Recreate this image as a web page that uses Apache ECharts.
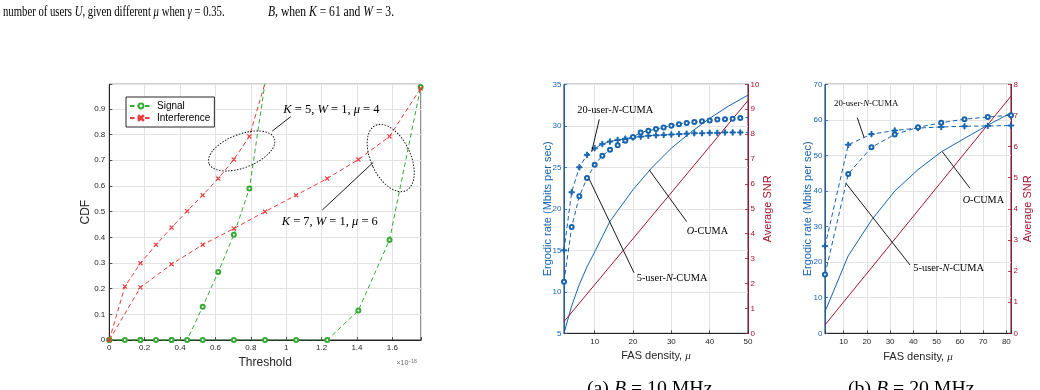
<!DOCTYPE html>
<html><head><meta charset="utf-8">
<script src="https://cdn.jsdelivr.net/npm/echarts@6/dist/echarts.min.js"></script>
<style>html,body{margin:0;padding:0;background:#fff;}#c{width:1040px;height:390px;}</style>
</head><body><div id="c"></div>
<script>
// ---------------- DATA ----------------
// Left plot: CDF vs threshold (x in units of 1e-18)
const cdfXK5 = [0, 0.088, 0.176, 0.264, 0.352, 0.44, 0.528, 0.616, 0.704, 0.792, 0.88];
const sigK5  = [0, 0, 0, 0, 0, 0, 0.13, 0.265, 0.41, 0.59, 1.0];
const intK5  = [0, 0.208, 0.299, 0.371, 0.438, 0.502, 0.564, 0.629, 0.703, 0.793, 1.0];
const cdfXK7 = [0, 0.176, 0.352, 0.528, 0.704, 0.88, 1.056, 1.232, 1.408, 1.584, 1.76];
const sigK7  = [0, 0, 0, 0, 0, 0, 0, 0, 0.115, 0.39, 0.985];
const intK7  = [0, 0.205, 0.295, 0.371, 0.434, 0.5, 0.564, 0.629, 0.703, 0.793, 0.98];
const legendNames = ['Signal', 'Interference'];

// Plot (a): B = 10 MHz
const aX   = [2,4,6,8,10,12,14,16,18,20,22,24,26,28,30,32,34,36,38,40,42,44,46,48];
const a20  = [15.0,22.0,25.0,26.5,27.3,27.8,28.1,28.3,28.45,28.6,28.7,28.8,28.85,28.9,28.95,29.0,29.05,29.1,29.1,29.15,29.15,29.2,29.2,29.2];
const a5   = [11.2,17.8,21.5,23.7,25.3,26.4,27.1,27.65,28.2,28.65,29.2,29.4,29.6,29.8,30.0,30.2,30.35,30.45,30.55,30.65,30.75,30.8,30.85,30.95];
const aEndX = 50, a20End = 29.2, a5End = 31.0;
const aOX  = [2,4,6,8,10,14,20,25,30,35,40,45,50];
const aO   = [5,8.3,10.9,13.0,14.8,18.5,22.3,25.0,27.3,29.2,30.9,32.4,33.7];
const aSnrX = [2, 50];
const aSnr  = [0.47, 9.35];

// Plot (b): B = 20 MHz
const bX   = [2,12,22,32,42,52,62,72,82];
const b20  = [24.5,53.0,56.0,57.0,57.7,58.0,58.2,58.3,58.4];
const b5   = [16.5,44.8,52.3,55.9,57.9,59.2,60.2,60.8,61.3];
const bO   = [6.1,21.8,31.8,40.0,46.0,51.0,54.8,58.5,62.0];
const bSnrX = [2, 82];
const bSnr  = [0.27, 7.62];

// ---------------- STYLE ----------------
const SANS = 'Liberation Sans', SERIF = 'Liberation Serif';
const DARK = '#262626', GRIDC = '#e3e3e3';
const GREEN = '#34ab34', RED1 = '#ea3c3c';
const BLUE = '#1763ae', MRED = '#a2142f';
const PLUS = 'path://M4,0H6V4H10V6H6V10H4V6H0V4H4Z';
const CROSS = 'path://M1,0L5,4L9,0L10,1L6,5L10,9L9,10L5,6L1,10L0,9L4,5L0,1Z';
const zip = (xs, ys) => xs.map((x, i) => [x, ys[i]]);
const stepFmt = step => v => { const r = Math.round(v / step); return Math.abs(v - r * step) < step * 1e-3 ? String(+(r * step).toFixed(6)) : ''; };
const lbl = (color, step, m) => ({ fontFamily: SANS, fontSize: 8, color: color, margin: m == null ? 4 : m, formatter: stepFmt(step) });
const tick = color => ({ show: true, inside: true, length: 3, lineStyle: { color: color, width: 0.8 } });
const split = { show: true, lineStyle: { color: GRIDC, width: 1 } };

const grids = [
  { left: 109.3, top: 84.3, width: 311.7, height: 255.7, show: true, borderColor: DARK, borderWidth: 1, backgroundColor: '#fff', outerBoundsMode: 'none' },
  { left: 564, top: 84.3, width: 184, height: 249, show: true, borderColor: DARK, borderWidth: 1, backgroundColor: '#fff', outerBoundsMode: 'none' },
  { left: 825, top: 84.3, width: 186, height: 249, show: true, borderColor: DARK, borderWidth: 1, backgroundColor: '#fff', outerBoundsMode: 'none' }
];

const xNameStyle = { fontFamily: SANS, fontSize: 11, color: DARK, rich: { i: { fontFamily: SERIF, fontStyle: 'italic', fontSize: 11, color: DARK } } };

const xAxes = [
  { gridIndex: 0, type: 'value', min: 0, max: 1.762, interval: 0.2,
    name: 'Threshold', nameLocation: 'middle', nameGap: 17, nameMoveOverlap: false, nameTextStyle: { fontFamily: SANS, fontSize: 12, color: DARK },
    axisLine: { lineStyle: { color: DARK } }, axisTick: tick(DARK), axisLabel: lbl(DARK, 0.2), splitLine: split },
  { gridIndex: 1, type: 'value', min: 2, max: 50, splitNumber: 5,
    name: 'FAS density, {i|μ}', nameLocation: 'middle', nameGap: 17, nameMoveOverlap: false, nameTextStyle: xNameStyle,
    axisLine: { lineStyle: { color: DARK } }, axisTick: tick(DARK), axisLabel: lbl(DARK, 10), splitLine: split },
  { gridIndex: 2, type: 'value', min: 2, max: 82, splitNumber: 8,
    name: 'FAS density, {i|μ}', nameLocation: 'middle', nameGap: 18, nameMoveOverlap: false, nameTextStyle: xNameStyle,
    axisLine: { lineStyle: { color: DARK } }, axisTick: tick(DARK), axisLabel: lbl(DARK, 10), splitLine: split }
];

const yAxes = [
  { gridIndex: 0, type: 'value', min: 0, max: 0.996, interval: 0.1,
    name: 'CDF', nameLocation: 'middle', nameGap: 18, nameMoveOverlap: false, nameTextStyle: { fontFamily: SANS, fontSize: 12, color: DARK },
    axisLine: { lineStyle: { color: DARK } }, axisTick: tick(DARK), axisLabel: lbl(DARK, 0.1), splitLine: split },
  { gridIndex: 1, type: 'value', min: 5, max: 35, interval: 5, position: 'left',
    name: 'Ergodic rate (Mbits per sec)', nameLocation: 'middle', nameGap: 10.5, nameMoveOverlap: false, nameTextStyle: { fontFamily: SANS, fontSize: 11, color: BLUE },
    axisLine: { show: true, lineStyle: { color: BLUE } }, axisTick: tick(BLUE), axisLabel: lbl(BLUE, 5, 2.5), splitLine: split },
  { gridIndex: 1, type: 'value', min: 0, max: 10, interval: 1, position: 'right',
    name: 'Average SNR', nameLocation: 'middle', nameGap: 14, nameMoveOverlap: false, nameTextStyle: { fontFamily: SANS, fontSize: 11, color: MRED },
    axisLine: { show: true, lineStyle: { color: MRED } }, axisTick: tick(MRED), axisLabel: lbl(MRED, 1, 2.5), splitLine: { show: false } },
  { gridIndex: 2, type: 'value', min: 0, max: 70, interval: 10, position: 'left',
    name: 'Ergodic rate (Mbits per sec)', nameLocation: 'middle', nameGap: 12, nameMoveOverlap: false, nameTextStyle: { fontFamily: SANS, fontSize: 11, color: BLUE },
    axisLine: { show: true, lineStyle: { color: BLUE } }, axisTick: tick(BLUE), axisLabel: lbl(BLUE, 10, 2.5), splitLine: split },
  { gridIndex: 2, type: 'value', min: 0, max: 8, interval: 1, position: 'right',
    name: 'Average SNR', nameLocation: 'middle', nameGap: 11.2, nameMoveOverlap: false, nameTextStyle: { fontFamily: SANS, fontSize: 11, color: MRED },
    axisLine: { show: true, lineStyle: { color: MRED } }, axisTick: tick(MRED), axisLabel: lbl(MRED, 1, 2.5), splitLine: { show: false } }
];

function lineS(name, xi, yi, data, color, opts) {
  return Object.assign({
    type: 'line', name: name, xAxisIndex: xi, yAxisIndex: yi, data: data,
    color: color, clip: true, showAllSymbol: true, animation: false,
    lineStyle: { color: color, width: 1, type: 'solid' },
    itemStyle: { color: color, borderColor: color, borderWidth: 0.9 },
    symbol: 'none', emphasis: { disabled: true }
  }, opts || {});
}
const dashed = c => ({ color: c, width: 1, type: [4.5, 3] });
const endPoint = (x, y) => ({ value: [x, y], symbol: 'none' });
const ring = c => ({ color: c, borderColor: c, borderWidth: 0.8 });

const series = [
  lineS('Signal', 0, 0, zip(cdfXK5, sigK5), GREEN, { lineStyle: dashed(GREEN), symbol: 'emptyCircle', symbolSize: 4, itemStyle: ring(GREEN) }),
  lineS('Signal', 0, 0, zip(cdfXK7, sigK7), GREEN, { lineStyle: dashed(GREEN), symbol: 'emptyCircle', symbolSize: 4, itemStyle: ring(GREEN) }),
  lineS('Interference', 0, 0, zip(cdfXK5, intK5), RED1, { lineStyle: dashed(RED1), symbol: CROSS, symbolSize: 4 }),
  lineS('Interference', 0, 0, zip(cdfXK7, intK7), RED1, { lineStyle: dashed(RED1), symbol: CROSS, symbolSize: 4 }),

  lineS('a-O', 1, 1, zip(aOX, aO), BLUE),
  lineS('a-snr', 1, 2, zip(aSnrX, aSnr), MRED),
  lineS('a-20', 1, 1, zip(aX, a20).concat([endPoint(aEndX, a20End)]), BLUE, { lineStyle: dashed(BLUE), symbol: PLUS, symbolSize: 5.5 }),
  lineS('a-5', 1, 1, zip(aX, a5).concat([endPoint(aEndX, a5End)]), BLUE, { lineStyle: dashed(BLUE), symbol: 'emptyCircle', symbolSize: 4, itemStyle: ring(BLUE) }),

  lineS('b-O', 2, 3, zip(bX, bO), BLUE),
  lineS('b-snr', 2, 4, zip(bSnrX, bSnr), MRED),
  lineS('b-20', 2, 3, zip(bX, b20), BLUE, { lineStyle: dashed(BLUE), symbol: PLUS, symbolSize: 5.5 }),
  lineS('b-5', 2, 3, zip(bX, b5), BLUE, { lineStyle: dashed(BLUE), symbol: 'emptyCircle', symbolSize: 4, itemStyle: ring(BLUE) })
];

// ---------------- ANNOTATIONS ----------------
const mathRich = fs => ({
  r: { fontFamily: SERIF, fontSize: fs, fill: '#000' },
  i: { fontFamily: SERIF, fontSize: fs, fontStyle: 'italic', fill: '#000' }
});
function txt(x, y, text, fs, extra) {
  return Object.assign({ type: 'text', x: x, y: y, silent: true, z: 50,
    style: { text: text, font: fs + 'px ' + SERIF, fill: '#000', align: 'left', verticalAlign: 'middle', rich: mathRich(fs) } }, extra || {});
}
function seg(x1, y1, x2, y2) {
  return { type: 'line', silent: true, z: 50, shape: { x1: x1, y1: y1, x2: x2, y2: y2 }, style: { stroke: '#000', lineWidth: 0.9 } };
}
function ell(cx, cy, rx, ry, rotDeg) {
  return { type: 'ellipse', x: cx, y: cy, rotation: rotDeg * Math.PI / 180, silent: true, z: 50,
    shape: { cx: 0, cy: 0, rx: rx, ry: ry }, style: { fill: 'none', stroke: '#000', lineWidth: 0.9, lineDash: [1.5, 1.5] } };
}
const graphics = [
  // page text
  txt(3, 12, '{r|number of users }{i|U}{r|, given different }{i|μ}{r| when }{i|γ}{r| = 0.35.}', 14, { scaleX: 0.765 }),
  txt(268, 12, '{i|B}{r|, when }{i|K}{r| = 61 and }{i|W}{r| = 3.}', 14, { scaleX: 0.83 }),
  // left plot
  ell(241.7, 151, 35, 16.7, 21),
  ell(390.7, 158, 19.8, 36, 25),
  seg(272.3, 131, 290.7, 116.7),
  seg(373.3, 162.3, 322.3, 210),
  txt(283.3, 110, '{i|K}{r| = 5, }{i|W}{r| = 1, }{i|μ}{r| = 4}', 12.5),
  txt(281.7, 221.7, '{i|K}{r| = 7, }{i|W}{r| = 1, }{i|μ}{r| = 6}', 12.5),
  { type: 'text', x: 396.5, y: 363, silent: true, style: { text: '×10{s|−18}', font: '7px ' + SANS, fill: '#666', verticalAlign: 'middle', rich: { s: { fontSize: 5, fontFamily: SANS, fill: '#666', verticalAlign: 'top' } } } },
  // plot (a)
  seg(599.3, 119.3, 591.7, 151.7),
  seg(589.3, 179.3, 634, 272.7),
  seg(649.3, 170, 686.7, 221.7),
  txt(577.3, 110.7, '{r|20-user-}{i|N}{r|-CUMA}', 10.4),
  txt(636.7, 278.3, '{r|5-user-}{i|N}{r|-CUMA}', 10.4),
  txt(686.7, 231, '{i|O}{r|-CUMA}', 10.2),
  txt(587, 389, '{r|(a) }{i|B}{r| = 10 MHz}', 19.8),
  // plot (b)
  seg(857.3, 117.7, 864, 137.3),
  seg(846, 183.3, 910, 265),
  seg(942.3, 151.7, 970, 188.3),
  txt(834, 104, '{r|20-user-}{i|N}{r|-CUMA}', 8.8),
  txt(913.3, 268.3, '{r|5-user-}{i|N}{r|-CUMA}', 10.4),
  txt(962.7, 200.7, '{i|O}{r|-CUMA}', 10.2),
  txt(848, 389, '{r|(b) }{i|B}{r| = 20 MHz}', 19.8)
];

const chart = echarts.init(document.getElementById('c'), null, { renderer: 'canvas' });
chart.setOption({
  animation: false,
  backgroundColor: '#fff',
  grid: grids,
  xAxis: xAxes,
  yAxis: yAxes,
  legend: {
    data: legendNames, left: 126, top: 97, orient: 'vertical',
    backgroundColor: '#fff', borderColor: DARK, borderWidth: 1, borderRadius: 0,
    padding: [4, 4, 4, 3], itemGap: 2, itemWidth: 22, itemHeight: 6,
    textStyle: { fontFamily: SANS, fontSize: 10, color: '#000' }, selectedMode: false
  },
  series: series,
  graphic: { elements: graphics }
});
</script>
</body></html>
